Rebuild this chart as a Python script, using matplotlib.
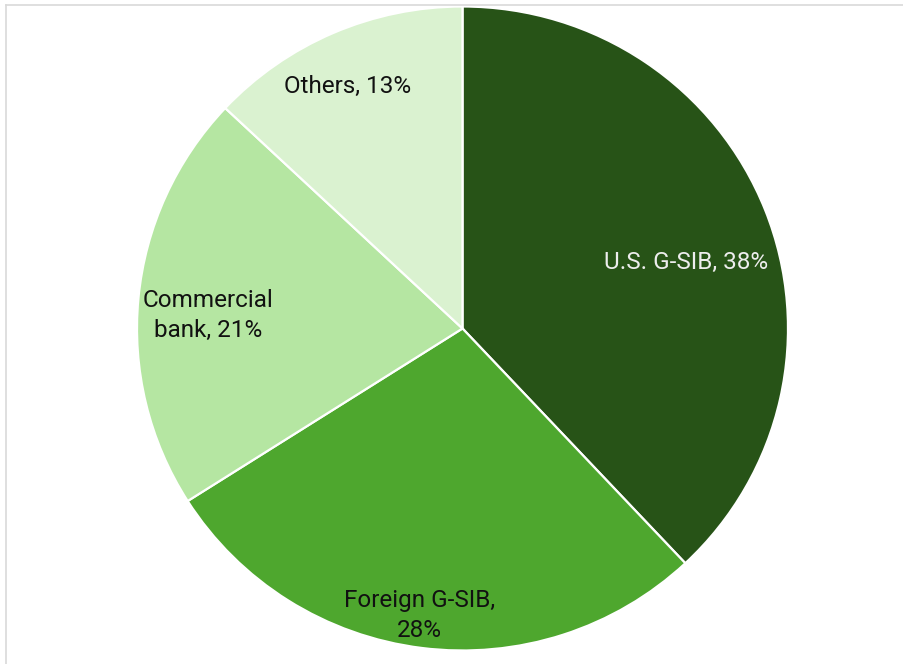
import numpy as np
import matplotlib
matplotlib.use("Agg")
import matplotlib.pyplot as plt
from matplotlib.lines import Line2D

# Share of holdings by institution type
categories = ["U.S. G-SIB", "Foreign G-SIB", "Commercial\nbank", "Others"]
shares = [38, 28, 21, 13]
colors = ["#275317", "#4EA72E", "#B5E6A2", "#DAF2D0"]
text_colors = ["#EDEDED", "#111111", "#111111", "#111111"]
label_text = ["U.S. G-SIB, 38%", "Foreign G-SIB,\n28%", "Commercial\nbank, 21%", "Others, 13%"]
# label placement: (angle in degrees, fraction of radius)
label_polar = [(16.6, 0.717), (-98.5, 0.90), (177.1, 0.784), (115.1, 0.83)]

plt.rcParams["font.family"] = ["Roboto", "DejaVu Sans"]

W, H = 904, 664
fig = plt.figure(figsize=(W / 100, H / 100), dpi=100)
cx, cy, rx, ry = 462.5, 328.5, 325.5, 322
ax = fig.add_axes([(cx - rx) / W, (H - cy - ry) / H, 2 * rx / W, 2 * ry / H])

wedges, _ = ax.pie(shares, colors=colors, startangle=90, counterclock=False,
                   radius=1.0, wedgeprops=dict(edgecolor="white", linewidth=1.6))
ax.set_aspect("auto")
ax.set_xlim(-1, 1)
ax.set_ylim(-1, 1)
ax.axis("off")

for txt, col, (ang, frac) in zip(label_text, text_colors, label_polar):
    a = np.deg2rad(ang)
    ax.text(frac * np.cos(a), frac * np.sin(a), txt, ha="center", va="center",
            fontsize=17.5, color=col, linespacing=1.38)

# thin frame on the top and left edges
fig.add_artist(Line2D([6 / W, 1], [1 - 5 / H, 1 - 5 / H], color="#D9D9D9", lw=1.2,
                      transform=fig.transFigure))
fig.add_artist(Line2D([6 / W, 6 / W], [0, 1 - 5 / H], color="#D9D9D9", lw=1.2,
                      transform=fig.transFigure))

fig.savefig("out.png", dpi=100, facecolor="white")
